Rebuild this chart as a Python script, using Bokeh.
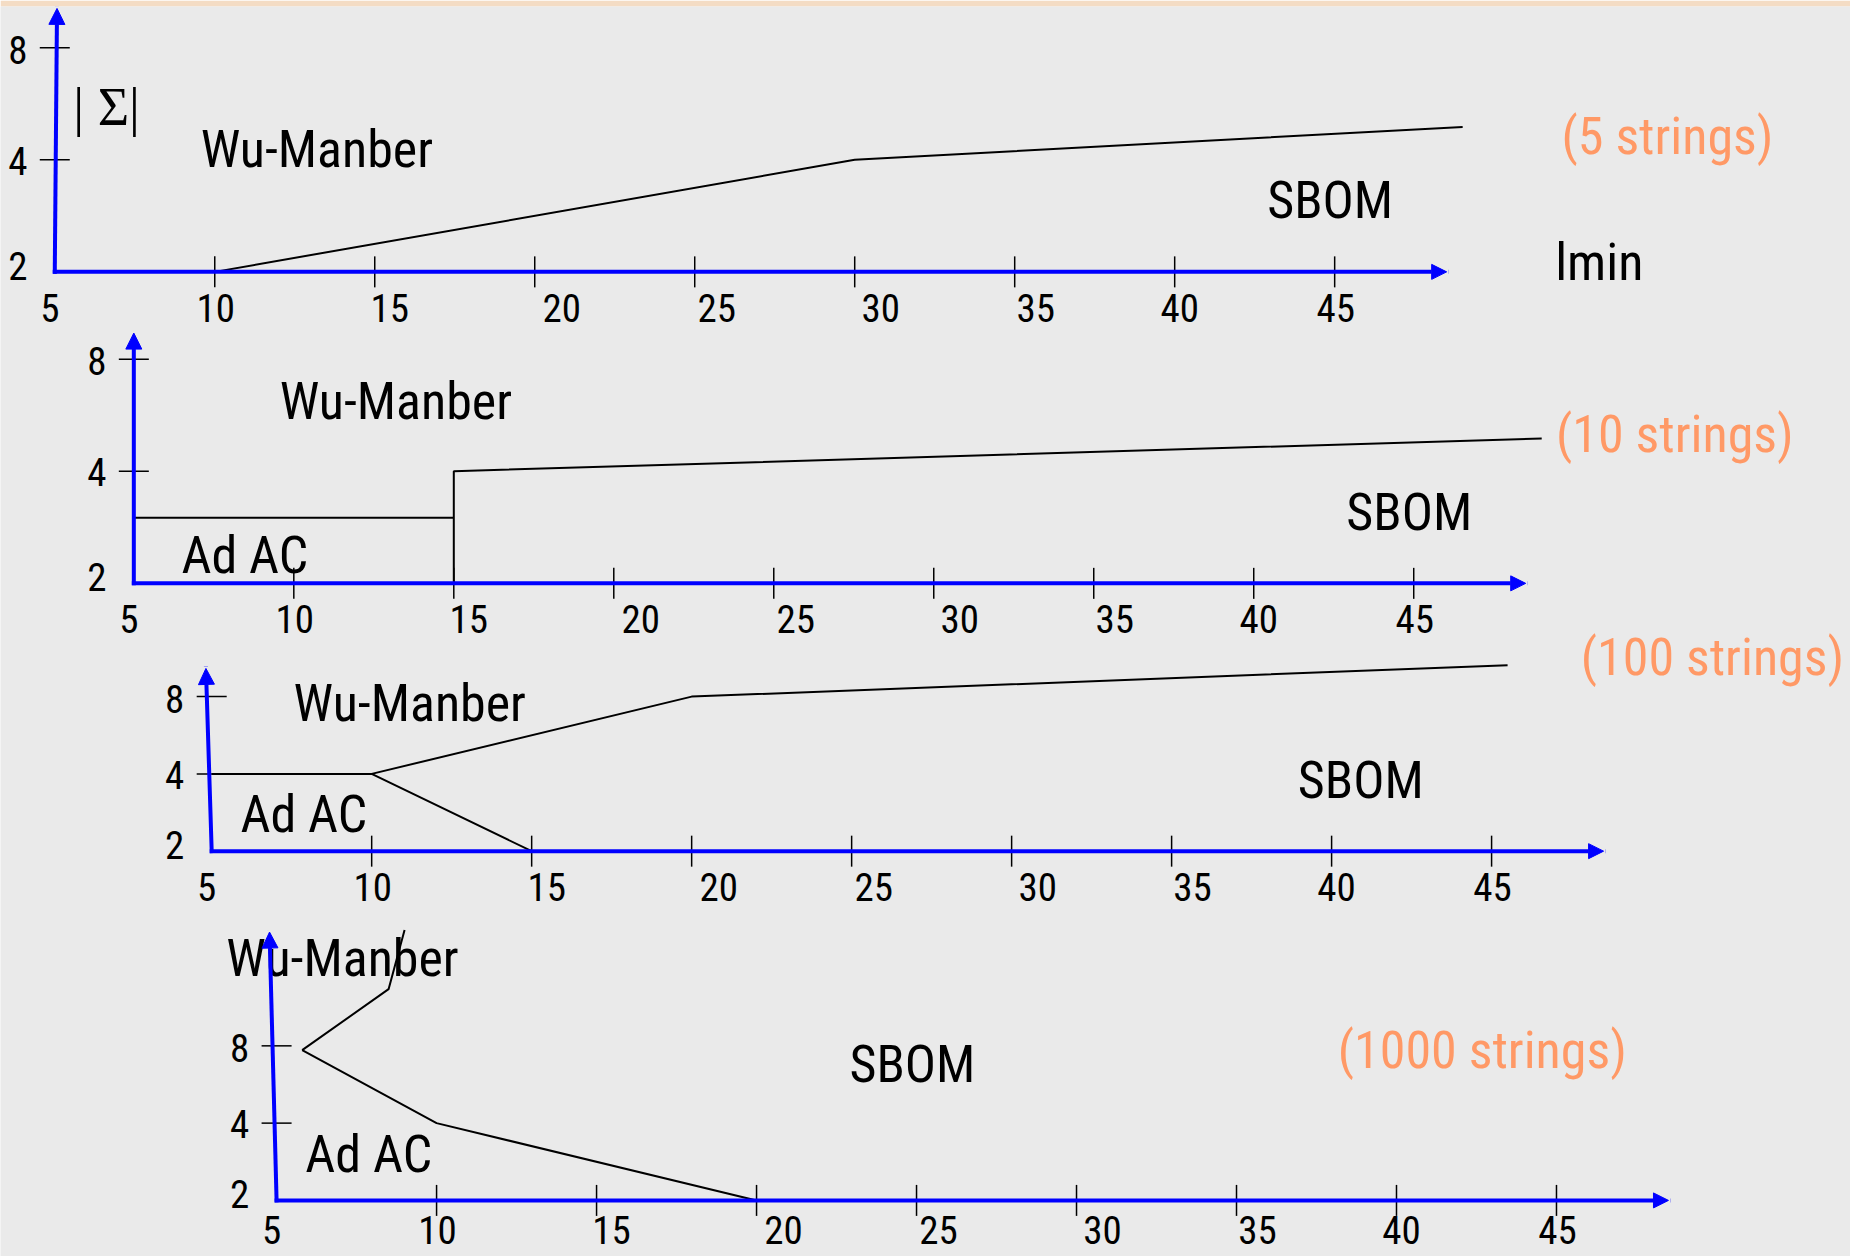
import numpy as np
from bokeh.plotting import figure
from bokeh.models import Range1d, LinearScale, LogScale, Arrow, NormalHead
from bokeh.core.properties import value
from bokeh.embed import file_html
from bokeh.resources import INLINE

# ---------------- data ----------------
X_TICKS = [10, 15, 20, 25, 30, 35, 40, 45]
X_LABEL_VALUES = [5, 10, 15, 20, 25, 30, 35, 40, 45]
X_LABELS = ["5", "10", "15", "20", "25", "30", "35", "40", "45"]
Y_TICKS = [8, 4]
Y_LABEL_VALUES = [8, 4, 2]
Y_LABELS = ["8", "4", "2"]
X_ORIGIN = 5
Y_ORIGIN = 2

# 5 strings
P1_WM_X = [10, 30, 49]
P1_WM_Y = [2, 4, 4.9]
# 10 strings
P2_AC_X = [5, 15]
P2_AC_Y = [3, 3]
P2_WM_X = [15, 15, 49]
P2_WM_Y = [2, 4, 4.9]
# 100 strings
P3_AC_X = [5, 10, 15]
P3_AC_Y = [4, 4, 2]
P3_WM_X = [10, 20, 45.5]
P3_WM_Y = [4, 8, 10.6]
# 1000 strings
P4_WM_X = [5.8, 8.5, 9]
P4_WM_Y = [7.7, 13.3, 22.6]
P4_AC_X = [5.8, 10, 20]
P4_AC_Y = [7.7, 4, 2]

# ---------------- layout ----------------
K = 1850 / 1568
W, H = 1850, 1256
PAGE = 0
TOP_BAND = 6
FX0, FX1 = PAGE, PAGE + W
FY0, FY1 = PAGE + TOP_BAND, PAGE + H

FONT = "Roboto Condensed, Noto Sans Condensed, Liberation Sans Narrow, Liberation Sans"
SERIF = "Liberation Serif"
ORANGE = "#FF9966"
BLUE = "#0000FF"
BIG = "52px"
SMALL = "39px"
X_LABEL_NUDGE = [-5, 1, 15, 27, 22, 26, 21, 5, 1]
Y_LABEL_NUDGE = [2, 1, -6]

panels = [
    dict(name="p1", ox=46 * K, oy=230 * K, sx=27.12 * K, sy=95 * K, ytip=10.2, lean=0.07, drop=36,
         lines=[(P1_WM_X, P1_WM_Y)],
         texts=[("| \u03a3|", 6.62, 5.55, "black", SERIF, "54px"),
                ("Wu-Manber", 13.19, 4.27, "black", FONT, BIG),
                ("SBOM", 44.86, 3.10, "black", FONT, BIG),
                ("(5 strings)", 55.4, 4.63, ORANGE, FONT, BIG),
                ("lmin", 53.27, 2.12, "black", FONT, BIG)]),
    dict(name="p2", ox=113 * K, oy=494 * K, sx=27.12 * K, sy=95 * K, ytip=9.4, lean=0.0, drop=36,
         lines=[(P2_AC_X, P2_AC_Y), (P2_WM_X, P2_WM_Y)],
         texts=[("Wu-Manber", 13.19, 6.15, "black", FONT, BIG),
                ("Ad AC", 8.47, 2.38, "black", FONT, BIG),
                ("SBOM", 44.86, 3.10, "black", FONT, BIG),
                ("(10 strings)", 53.16, 5.01, ORANGE, FONT, BIG)]),
    dict(name="p3", ox=179 * K, oy=721 * K, sx=27.12 * K, sy=65.5 * K, ytip=10.3, lean=-0.18, drop=36,
         lines=[(P3_AC_X, P3_AC_Y), (P3_WM_X, P3_WM_Y)],
         texts=[("Wu-Manber", 11.19, 7.5, "black", FONT, BIG),
                ("Ad AC", 7.88, 2.78, "black", FONT, BIG),
                ("SBOM", 40.91, 3.77, "black", FONT, BIG),
                ("(100 strings)", 51.9, 11.35, ORANGE, FONT, BIG)]),
    dict(name="p4", ox=234 * K, oy=1017 * K, sx=27.12 * K, sy=65.5 * K, ytip=22.2, lean=-0.22, drop=30,
         lines=[(P4_WM_X, P4_WM_Y), (P4_AC_X, P4_AC_Y)],
         texts=[("Wu-Manber", 7.06, 17.5, "black", FONT, BIG),
                ("Ad AC", 7.88, 3.02, "black", FONT, BIG),
                ("SBOM", 24.87, 6.75, "black", FONT, BIG),
                ("(1000 strings)", 42.68, 7.67, ORANGE, FONT, BIG)]),
]
X_AXIS_END = 48.5

p = figure(width=W, height=H, output_backend="svg", toolbar_location=None,
           x_range=Range1d(0, 1), y_range=Range1d(0, 1),
           x_axis_type=None, y_axis_type=None,
           min_border=0, min_border_left=0, min_border_right=0, min_border_bottom=0,
           min_border_top=TOP_BAND,
           background_fill_color="#EAEAEA", border_fill_color="#F4DCC4",
           outline_line_color=None)
p.grid.visible = False

exr, eyr, exs, eys = {}, {}, {}, {}
for pn in panels:
    xn, yn = pn["name"] + "x", pn["name"] + "y"
    exr[xn] = Range1d(X_ORIGIN + (FX0 - pn["ox"]) / pn["sx"], X_ORIGIN + (FX1 - pn["ox"]) / pn["sx"])
    eyr[yn] = Range1d(2 ** (1 + (pn["oy"] - FY1) / pn["sy"]), 2 ** (1 + (pn["oy"] - FY0) / pn["sy"]))
    exs[xn] = LinearScale()
    eys[yn] = LogScale()
p.extra_x_ranges = exr
p.extra_y_ranges = eyr
p.extra_x_scales = exs
p.extra_y_scales = eys

for pn in panels:
    xn, yn = pn["name"] + "x", pn["name"] + "y"
    kw = dict(x_range_name=xn, y_range_name=yn)
    for lx, ly in pn["lines"]:
        p.line(lx, ly, line_color="black", line_width=2, **kw)
    p.add_layout(Arrow(x_start=X_ORIGIN, y_start=Y_ORIGIN, x_end=X_AXIS_END, y_end=Y_ORIGIN,
                       line_color=BLUE, line_width=4, line_cap="square",
                       end=NormalHead(size=15, fill_color=BLUE, line_color=BLUE), **kw))
    p.add_layout(Arrow(x_start=X_ORIGIN, y_start=Y_ORIGIN, x_end=X_ORIGIN + pn["lean"], y_end=pn["ytip"],
                       line_color=BLUE, line_width=4, line_cap="square",
                       end=NormalHead(size=16, fill_color=BLUE, line_color=BLUE), **kw))
    p.scatter(X_TICKS, [Y_ORIGIN] * len(X_TICKS), marker="dash", size=31, angle=np.pi / 2,
              line_color="black", line_width=1.5, **kw)
    p.scatter([X_ORIGIN] * len(Y_TICKS), Y_TICKS, marker="dash", size=30,
              line_color="black", line_width=1.5, **kw)
    p.text(X_LABEL_VALUES, [Y_ORIGIN] * len(X_LABEL_VALUES), text=X_LABELS,
           x_offset=X_LABEL_NUDGE, y_offset=pn["drop"],
           text_font=value(FONT), text_font_size=SMALL, text_align="center",
           text_baseline="middle", text_color="black", **kw)
    p.text([X_ORIGIN] * len(Y_LABEL_VALUES), Y_LABEL_VALUES, text=Y_LABELS,
           x_offset=-37, y_offset=Y_LABEL_NUDGE,
           text_font=value(FONT), text_font_size=SMALL, text_align="center",
           text_baseline="middle", text_color="black", **kw)
    for t, tx, ty, col, fnt, fs in pn["texts"]:
        p.text([tx], [ty], text=[t], text_font=value(fnt), text_font_size=fs,
               text_align="center", text_baseline="middle", text_color=col, **kw)

open("out.html", "w").write(file_html(p, INLINE))
